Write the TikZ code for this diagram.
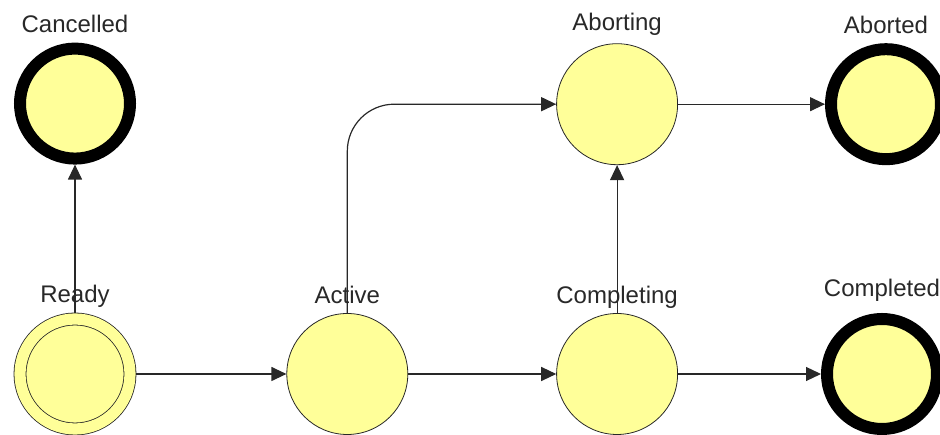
\documentclass[tikz,border=0pt]{standalone}
\usepackage{fontspec}
\setmainfont{Liberation Sans}
\usepackage{tikz}
\usetikzlibrary{positioning,arrows.meta}
\definecolor{statefill}{RGB}{255,255,153}
\definecolor{inkgray}{RGB}{40,40,40}
\tikzset{
  state/.style={draw=inkgray,circle,fill=statefill,line width=0.8pt,minimum size=121pt,inner sep=0pt,outer sep=0.4pt},
  final/.style={draw=black,circle,fill=statefill,line width=12pt,minimum size=110pt,inner sep=0pt,outer sep=6pt},
  initial/.style={draw=inkgray,circle,fill=statefill,line width=0.8pt,double=statefill,double distance=11.2pt,minimum size=110pt,inner sep=0pt,outer sep=6.4pt},
  lbl/.style={anchor=base,inner sep=0pt,text=inkgray,font=\fontsize{24}{28}\selectfont},
}

\begin{document}
\begin{tikzpicture}[>={Triangle[length=15pt,width=14pt]},
   flow/.style={->,line width=1.2pt,draw=inkgray}]
  \useasboundingbox (0,0) rectangle (940pt,435pt);
  \node[initial,label={[lbl,label distance=10pt]above:Ready}] (ready) at (75pt,61pt) {};
  \node[state,right=150pt of ready,label={[lbl,label distance=10pt]above:Active}] (active) {};
  \node[state,right=148pt of active,label={[lbl,label distance=10pt]above:Completing}] (completing) {};
  \node[final,right=143pt of completing,label={[lbl,label distance=16pt]above:Completed}] (completed) {};
  \node[final,above=148pt of ready,label={[lbl,label distance=10pt]above:Cancelled}] (cancelled) {};
  \node[state,above=148pt of completing,label={[lbl,label distance=13pt]above:Aborting}] (aborting) {};
  \node[final,right=147pt of aborting,label={[lbl,label distance=10pt]above:Aborted}] (aborted) {};
  \draw[flow] (ready)--(active);
  \draw[flow] (ready)--(cancelled);
  \draw[flow] (active)--(completing);
  \draw[flow] (completing)--(completed);
  \draw[flow] (completing)--(aborting);
  \draw[flow,rounded corners=47pt] (active.north) |- (aborting.west);
  \draw[flow] (aborting)--(aborted);
\end{tikzpicture}
\end{document}
